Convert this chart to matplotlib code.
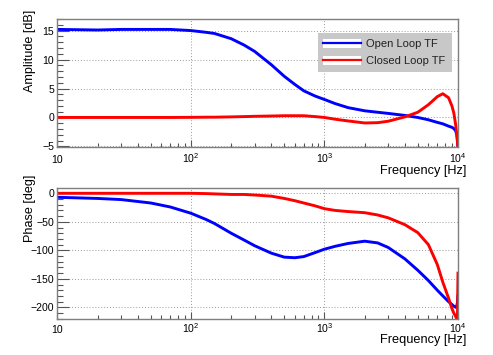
import matplotlib
matplotlib.use("Agg")
import matplotlib.pyplot as plt
from matplotlib.lines import Line2D
from matplotlib.patches import Patch
from matplotlib.ticker import FixedLocator, FixedFormatter, MultipleLocator, LogLocator, NullFormatter

plt.rcParams["font.family"] = ["Liberation Sans", "DejaVu Sans"]
plt.rcParams["mathtext.fontset"] = "custom"
plt.rcParams["mathtext.rm"] = "Liberation Sans"
plt.rcParams["mathtext.it"] = "Liberation Sans:italic"

# ---------------------------------------------------------------------------
# Data (frequency in Hz)
# ---------------------------------------------------------------------------
freq = [10, 20, 30, 50, 70, 100, 130, 150, 200, 250, 300, 400, 500, 600, 700,
        850, 1000, 1200, 1500, 2000, 2500, 3000, 4000, 5000, 6000, 7000, 7700,
        8500, 9000, 9300, 9600, 9800, 9900, 10000]

open_amp = [15.2, 15.1, 15.2, 15.2, 15.2, 15.0, 14.7, 14.5, 13.6, 12.5, 11.4,
            9.1, 7.1, 5.7, 4.6, 3.7, 3.1, 2.4, 1.7, 1.15, 0.9, 0.7, 0.35, 0.0,
            -0.4, -0.85, -1.1, -1.5, -1.7, -1.9, -2.3, -3.0, -3.8, -5.3]

closed_amp = [0.0, 0.0, 0.0, 0.0, 0.0, 0.02, 0.05, 0.05, 0.1, 0.15, 0.2, 0.25,
              0.3, 0.3, 0.3, 0.15, 0.0, -0.3, -0.6, -0.95, -0.9, -0.65, 0.1,
              0.9, 2.2, 3.6, 4.1, 3.4, 2.0, 0.8, -1.2, -3.0, -4.2, -5.3]

open_phase = [-7, -9, -11, -17, -24, -35, -46, -53, -70, -82, -92, -105, -112,
              -113, -111, -104, -98, -93, -88, -84, -87, -95, -115, -135, -153,
              -170, -180, -190, -195, -198, -200, -197, -192, -180]

closed_phase = [0, 0, 0, 0, 0, 0, -0.5, -1, -2, -2, -3, -5, -9, -13, -17, -22,
                -27, -30, -32, -34, -38, -43, -55, -69, -90, -125, -156, -184,
                -202, -210, -216, -220, -222, -140]

x_ticks = [10, 100, 1000, 10000]
x_ticklabels = ["10", r"$\mathregular{10^{2}}$", r"$\mathregular{10^{3}}$",
                r"$\mathregular{10^{4}}$"]

BLUE = "#0000ff"
RED = "#ff0000"
FRAME = "#7f7f7f"


def style_axis(ax, ylim, ymajor, yminor, label_pad):
    ax.set_xscale("log")
    ax.set_xlim(10, 10000)
    ax.set_ylim(*ylim)
    ax.xaxis.set_major_locator(FixedLocator(x_ticks))
    ax.xaxis.set_major_formatter(FixedFormatter(x_ticklabels))
    ax.xaxis.set_minor_locator(LogLocator(base=10, subs=range(2, 10)))
    ax.xaxis.set_minor_formatter(NullFormatter())
    ax.yaxis.set_major_locator(MultipleLocator(ymajor))
    ax.yaxis.set_minor_locator(MultipleLocator(yminor))

    ax.tick_params(axis="both", which="both", direction="in", colors="#555555",
                   labelcolor="black", labelsize=7.6, top=False, right=False)
    ax.tick_params(axis="y", which="major", length=8.6, width=0.8, pad=2.5)
    ax.tick_params(axis="y", which="minor", length=4.3, width=0.8)
    ax.tick_params(axis="x", which="major", length=5, width=0.8, pad=label_pad)
    ax.tick_params(axis="x", which="minor", length=2.6, width=0.8)
    for lbl in ax.get_xticklabels():
        lbl.set_va("baseline")

    for sp in ax.spines.values():
        sp.set_color(FRAME)
        sp.set_linewidth(1.0)

    ax.set_axisbelow(True)
    ax.grid(True, which="major", linestyle=(0, (1, 2)), color="#9a9a9a",
            linewidth=0.7)


fig = plt.figure(figsize=(4.93, 3.55), dpi=100)

# ---- amplitude panel ----
ax1 = fig.add_axes([0.1166, 0.5859, 0.8124, 0.3614])
ax1.plot(freq, open_amp, color=BLUE, linewidth=2.1)
ax1.plot(freq, closed_amp, color=RED, linewidth=2.1)
style_axis(ax1, (-5.1, 17.05), 5, 1, 11.5)
ax1.set_ylabel("Amplitude [dB]", fontsize=9.1)
ax1.yaxis.set_label_coords(-0.053, 0.748)
ax1.set_xlabel("Frequency [Hz]", fontsize=9.2, ha="right")
ax1.xaxis.set_label_coords(1.02, -0.138)

# ROOT-style legend entries: white box with the coloured line across it
white_box = Patch(facecolor="white", edgecolor="none")
handles = [
    (white_box, Line2D([], [], color=BLUE, linewidth=1.6)),
    (white_box, Line2D([], [], color=RED, linewidth=1.6)),
]
leg = ax1.legend(handles, ["Open Loop TF", "Closed Loop TF"],
                 loc="center", bbox_to_anchor=(0.65, 0.577, 0.335, 0.319),
                 mode="expand", fontsize=8, frameon=True, fancybox=False,
                 facecolor="#c8c8c8", edgecolor="none", framealpha=1,
                 handlelength=3.4, handleheight=0.85, handletextpad=0.4,
                 labelspacing=0.6, borderpad=0.5, borderaxespad=0)
for t in leg.get_texts():
    t.set_color("#222222")

# ---- phase panel ----
ax2 = fig.add_axes([0.1166, 0.1014, 0.8124, 0.3682])
ax2.plot(freq, open_phase, color=BLUE, linewidth=2.1)
ax2.plot(freq, closed_phase, color=RED, linewidth=2.1)
style_axis(ax2, (-220.5, 8.8), 50, 10, 10)
ax2.set_ylabel("Phase [deg]", fontsize=9.1)
ax2.yaxis.set_label_coords(-0.053, 0.847)
ax2.set_xlabel("Frequency [Hz]", fontsize=9.2, ha="right")
ax2.xaxis.set_label_coords(1.02, -0.115)

fig.savefig("out.png", dpi=100)
